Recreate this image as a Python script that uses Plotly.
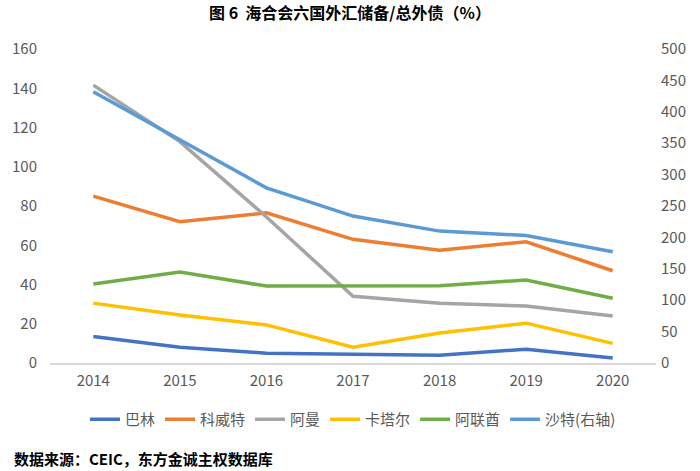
import plotly.graph_objects as go

years = ["2014", "2015", "2016", "2017", "2018", "2019", "2020"]
bahrain = [13.5, 8, 5, 4.6, 4, 7, 2.5]
kuwait = [85, 72, 76.5, 63, 57.5, 61.8, 47]
oman = [141.6, 112.8, 74.4, 34, 30.5, 29, 24]
qatar = [30.5, 24.5, 19.4, 8, 15.3, 20.3, 10]
uae = [40.3, 46.4, 39.2, 39.5, 39.4, 42.3, 33]
saudi = [432, 355, 279, 234, 210, 203, 177]

names = ["巴林", "科威特", "阿曼", "卡塔尔", "阿联酋", "沙特(右轴)"]
colors = ["#4472C4", "#ED7D31", "#A5A5A5", "#FFC000", "#70AD47", "#5B9BD5"]
left_ticks = [0, 20, 40, 60, 80, 100, 120, 140, 160]
right_ticks = [0, 50, 100, 150, 200, 250, 300, 350, 400, 450, 500]

FONT = "Noto Sans CJK SC"
fig = go.Figure()
for nm, vals, col in zip(names[:5], [bahrain, kuwait, oman, qatar, uae], colors[:5]):
    fig.add_trace(go.Scatter(x=years, y=vals, name=nm, mode="lines",
                             line=dict(color=col, width=3.5)))
fig.add_trace(go.Scatter(x=years, y=saudi, name=names[5], mode="lines", yaxis="y2",
                         line=dict(color=colors[5], width=3.5)))

fig.update_layout(
    width=700, height=471,
    margin=dict(l=48, r=44, t=49, b=108),
    paper_bgcolor="white", plot_bgcolor="white",
    font=dict(family=FONT, size=15, color="#595959"),
    title=dict(text="<b>图 6  海合会六国外汇储备/总外债（%）</b>", x=0.5, xanchor="center",
               y=0.972, yanchor="middle", font=dict(family=FONT, size=16, color="#000000")),
    xaxis=dict(type="category", range=[-0.5, 6.5], showgrid=False, showline=True,
               linecolor="#D9D9D9", linewidth=1.5, ticks="", ticklabelstandoff=3,
               tickfont=dict(size=15, color="#595959")),
    yaxis=dict(range=[0, 160], tickvals=left_ticks, showgrid=False, zeroline=False,
               showline=False, ticks="", ticklabelstandoff=12,
               tickfont=dict(size=15, color="#595959")),
    yaxis2=dict(range=[0, 500], tickvals=right_ticks, overlaying="y", side="right",
                showgrid=False, zeroline=False, showline=False, ticks="",
                ticklabelstandoff=4, tickfont=dict(size=15, color="#595959")),
    legend=dict(orientation="h", x=0.5, xanchor="center", y=-40/314, yanchor="top",
                font=dict(size=15, color="#595959"), itemwidth=30, tracegroupgap=0),
    annotations=[dict(text="<b>数据来源：CEIC，东方金诚主权数据库</b>", xref="paper", yref="paper",
                      x=-38/608, xanchor="left", y=-95/314, yanchor="middle",
                      showarrow=False, font=dict(family=FONT, size=15, color="#000000"))],
)
fig.write_html("out.html", config={"displayModeBar": False},
               post_script="document.body.style.margin='0';")
